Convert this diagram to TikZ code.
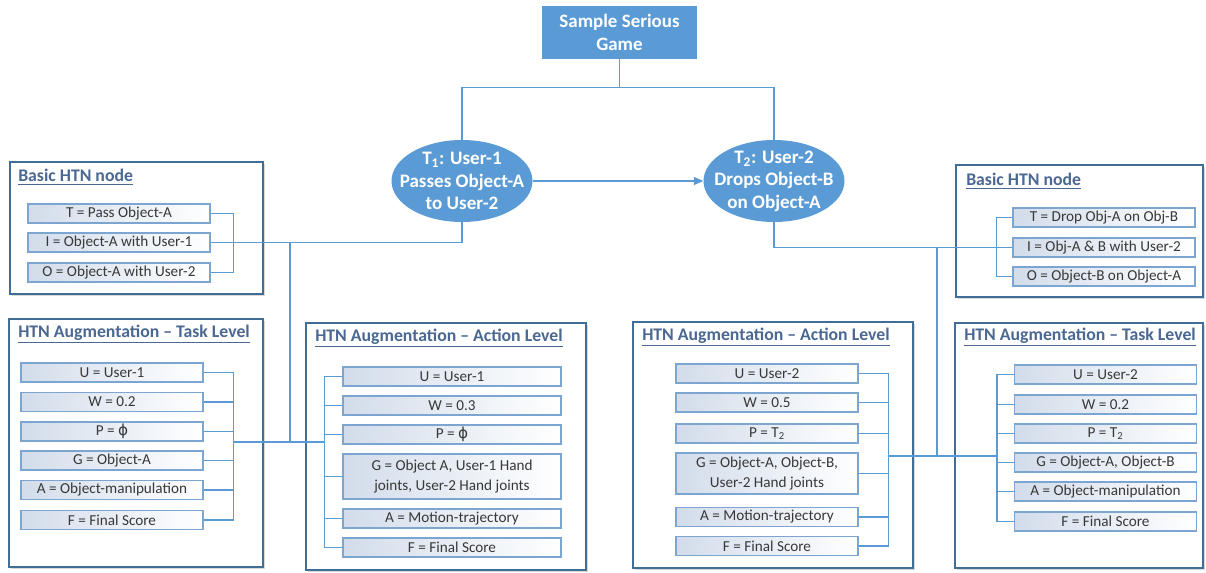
\documentclass[tikz,border=0pt]{standalone}
\usepackage{fontspec}
\setmainfont{Carlito}
\newfontfamily\symbolfont{DejaVu Sans}
\usepackage{tikz}
\usetikzlibrary{shapes.geometric,arrows.meta,shadows}
\definecolor{nodeblue}{RGB}{91,155,213}
\definecolor{paneledge}{RGB}{65,110,152}
\definecolor{itemedge}{RGB}{125,165,210}
\definecolor{itemfill}{RGB}{210,220,234}
\definecolor{titleblue}{RGB}{74,104,146}
\newcommand{\phisym}{{\symbolfont ϕ}}

\begin{document}
\begin{tikzpicture}[x=0.75pt, y=-0.75pt,
    panel/.style={draw=paneledge, line width=1.5pt, fill=white, drop shadow={shadow xshift=1.2pt, shadow yshift=-1.2pt, opacity=0.3}},
    paneltitle/.style={anchor=west, inner sep=0pt, text=titleblue, font=\bfseries\fontsize{13.3}{15}\selectfont},
    item/.style={draw=itemedge, line width=0.8pt, left color=itemfill, right color=white, minimum width=182*0.75pt, minimum height=19*0.75pt, inner sep=0pt, align=center, text=black!78, font=\fontsize{11.4}{15}\selectfont},
    task/.style={ellipse, fill=nodeblue, text=white, minimum width=141*0.75pt, minimum height=82*0.75pt, inner xsep=-14*0.75pt, inner ysep=-6*0.75pt, align=center, font=\bfseries\fontsize{14.3}{16.8}\selectfont},
    game/.style={rectangle, fill=nodeblue, text=white, minimum width=155*0.75pt, minimum height=53*0.75pt, inner sep=0pt, align=center, font=\bfseries\fontsize{14.2}{17.5}\selectfont},
    link/.style={draw=nodeblue, line width=0.9pt}]

    \useasboundingbox (0,0) rectangle (1206,572);

    % panels
    \draw[panel] (10,162) rectangle (263,294);
    \draw[panel] (9,319) rectangle (263,567);
    \draw[panel] (306,323) rectangle (586,570);
    \draw[panel] (633,322) rectangle (913,568);
    \draw[panel] (955,323) rectangle (1203,568);
    \draw[panel] (956,165) rectangle (1203,297);

    \node[paneltitle] (lbtitle) at (18,177) {\underline{Basic HTN node}};
    \node[paneltitle] (lttitle) at (18,334) {\underline{HTN Augmentation – Task Level}};
    \node[paneltitle] (latitle) at (315,338) {\underline{HTN Augmentation – Action Level}};
    \node[paneltitle] (ratitle) at (642,337) {\underline{HTN Augmentation – Action Level}};
    \node[paneltitle] (rttitle) at (964,337) {\underline{HTN Augmentation – Task Level}};
    \node[paneltitle] (rbtitle) at (966,181) {\underline{Basic HTN node}};

    % top of the tree
    \node[game] (game) at (619.5,32.5) {Sample Serious\\Game};
    \node[task] (t1) at (462,181) {T\textsubscript{1}: User-1\\Passes Object-A\\to User-2};
    \node[task] (t2) at (774,181) {T\textsubscript{2}: User-2\\Drops Object-B\\on Object-A};

    % left basic node
    \node[item] (lbT) at (119,213.5) {T = Pass Object-A};
    \node[item] (lbI) at (119,242.5) {I = Object-A with User-1};
    \node[item] (lbO) at (119,272.5) {O = Object-A with User-2};

    % left task level
    \node[item] (ltU) at (112,372.5) {U = User-1};
    \node[item] (ltW) at (112,402) {W = 0.2};
    \node[item] (ltP) at (112,431.5) {P = \phisym};
    \node[item] (ltG) at (112,460.5) {G = Object-A};
    \node[item] (ltA) at (112,490) {A = Object-manipulation};
    \node[item] (ltF) at (112,520) {F = Final Score};

    % left action level
    \node[item, minimum width=218*0.75pt] (laU) at (452,376.5) {U = User-1};
    \node[item, minimum width=218*0.75pt] (laW) at (452,405.5) {W = 0.3};
    \node[item, minimum width=218*0.75pt] (laP) at (452,434.5) {P = \phisym};
    \node[item, minimum width=218*0.75pt, minimum height=45*0.75pt] (laG) at (452,476.5) {G = Object A, User-1 Hand\\joints, User-2 Hand joints};
    \node[item, minimum width=218*0.75pt] (laA) at (452,518.5) {A = Motion-trajectory};
    \node[item, minimum width=218*0.75pt] (laF) at (452,547.5) {F = Final Score};

    % right action level
    \node[item] (raU) at (767,373.5) {U = User-2};
    \node[item] (raW) at (767,402.5) {W = 0.5};
    \node[item] (raP) at (767,433.5) {P = T\textsubscript{2}};
    \node[item, minimum height=41*0.75pt] (raG) at (767,473.5) {G = Object-A, Object-B,\\User-2 Hand joints};
    \node[item] (raA) at (767,517) {A = Motion-trajectory};
    \node[item] (raF) at (767,546) {F = Final Score};

    % right task level
    \node[item] (rtU) at (1105.5,374.5) {U = User-2};
    \node[item] (rtW) at (1105.5,404.5) {W = 0.2};
    \node[item] (rtP) at (1105.5,433.5) {P = T\textsubscript{2}};
    \node[item] (rtG) at (1105.5,462.5) {G = Object-A, Object-B};
    \node[item] (rtA) at (1105.5,491.5) {A = Object-manipulation};
    \node[item] (rtF) at (1105.5,521.5) {F = Final Score};

    % right basic node
    \node[item] (rbT) at (1104,217.5) {T = Drop Obj-A on Obj-B};
    \node[item] (rbI) at (1104,247.5) {I = Obj-A \& B with User-2};
    \node[item] (rbO) at (1104,276.5) {O = Object-B on Object-A};

    % joints of the buses
    \coordinate (lj) at (290,242.5);
    \coordinate (lk) at (290,442);
    \coordinate (ltbus) at (233,442);
    \coordinate (labus) at (325,442);
    \coordinate (rj) at (937,247.5);
    \coordinate (rk) at (937,456);
    \coordinate (rabus) at (888,456);
    \coordinate (rtbus) at (997,456);

    % connectors
    \draw[link] (game.south) -- ++(0,28) -| (t1.north);
    \draw[link] (game.south) -- ++(0,28) -| (t2.north);
    \draw[link, -{Triangle[length=7pt, width=6pt]}] (t1.east) -- (t2.west);

    \draw[link] (t1.south) |- (lbI.east);
    \draw[link] (lbT.east) -- ++(23,0) |- (lbO.east);
    \draw[link] (lj) -- (lk);
    \draw[link] (ltU.east) -- ++(30,0) |- (ltF.east);
    \foreach \n in {W,P,G,A} \draw[link] (lt\n.east) -- ++(30,0);
    \draw[link] (ltbus) -- (labus);
    \draw[link] (laU.west) -- ++(-18,0) |- (laF.west);
    \foreach \n in {W,P,G,A} \draw[link] (la\n.west) -- ++(-18,0);

    \draw[link] (t2.south) |- (rbI.west);
    \draw[link] (rbT.west) -- ++(-16,0) |- (rbO.west);
    \draw[link] (rj) -- (rk);
    \draw[link] (raU.east) -- ++(30,0) |- (raF.east);
    \foreach \n in {W,P,G,A} \draw[link] (ra\n.east) -- ++(30,0);
    \draw[link] (rabus) -- (rtbus);
    \draw[link] (rtU.west) -- ++(-17,0) |- (rtF.west);
    \foreach \n in {W,P,G,A} \draw[link] (rt\n.west) -- ++(-17,0);

\end{tikzpicture}
\end{document}
